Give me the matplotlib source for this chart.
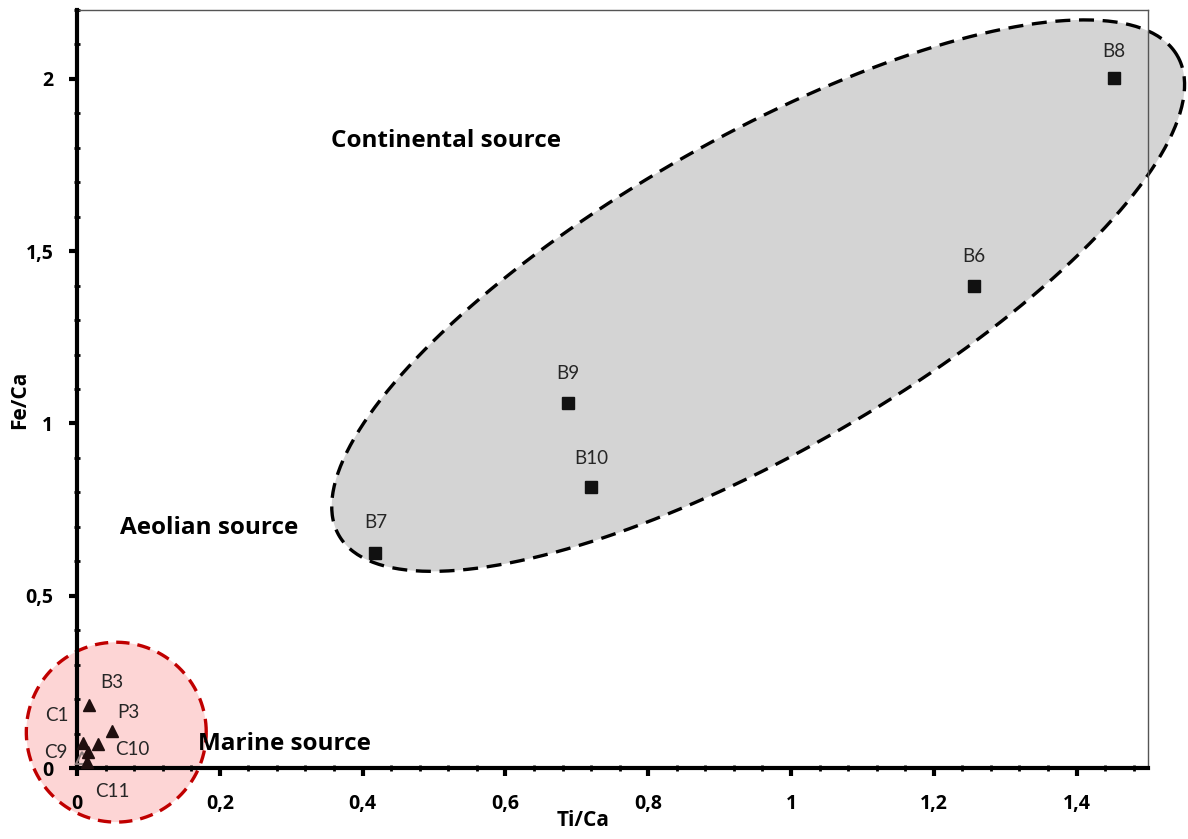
import numpy as np
import matplotlib
matplotlib.use("Agg")
import matplotlib.pyplot as plt
from matplotlib.ticker import MultipleLocator, FuncFormatter

plt.rcParams["font.family"] = ["Open Sans", "DejaVu Sans"]
plt.rcParams["font.weight"] = "bold"

# Continental samples (squares)
cont_labels = ["B8", "B6", "B9", "B10", "B7"]
cont_ti = [1.452, 1.256, 0.687, 0.720, 0.418]
cont_fe = [2.003, 1.400, 1.058, 0.815, 0.623]

# Marine samples (triangles)
mar_labels = ["B3", "P3", "C10", "C1", "C9", "C11"]
mar_ti = [0.017, 0.049, 0.029, 0.008, 0.015, 0.014]
mar_fe = [0.183, 0.107, 0.070, 0.072, 0.046, 0.018]

# unlabelled sample drawn as a hollow grey triangle
extra_ti = [0.007]
extra_fe = [0.030]

# label offsets in pixels (dx, dy)
cont_offsets = [(0, 26), (0, 29), (0, 30), (0, 29), (0, 31)]
mar_offsets = [(23, 22), (16, 19), (35, -6), (-26, 28), (-32, 0), (25, -30)]

fig = plt.figure(figsize=(11.88, 8.39), dpi=100)
ax = fig.add_axes([77 / 1188, 71 / 839, (1148 - 77) / 1188, (768 - 10) / 839])
ax.set_xlim(0, 1.5)
ax.set_ylim(0, 2.2)

# ---- source domains ----
t = np.linspace(0, 2 * np.pi, 400)
# continental domain: centre + two conjugate semi-axis vectors in data units
cx, cy = 0.954, 1.371
ux, uy = 0.5872, 0.6958
vx, vy = -0.1091, 0.3953
ex = cx + ux * np.cos(t) + vx * np.sin(t)
ey = cy + uy * np.cos(t) + vy * np.sin(t)
ax.fill(ex, ey, facecolor="#d4d4d4", edgecolor="none", zorder=1, clip_on=False)
ax.plot(ex, ey, color="black", lw=2.4, ls=(0, (4.5, 2.6)), zorder=1.2, clip_on=False)

# marine domain
mx, my = 0.055, 0.104
rx, ry = 0.126, 0.261
cxr = mx + rx * np.cos(t)
cyr = my + ry * np.sin(t)
ax.fill(cxr, cyr, facecolor="#fdd5d5", edgecolor="none", zorder=1, clip_on=False)
ax.plot(cxr, cyr, color="#c00000", lw=2.4, ls=(0, (4.0, 2.4)), zorder=1.2, clip_on=False)

# ---- samples ----
ax.plot(cont_ti, cont_fe, ls="none", marker="s", ms=8.5, color="#111111",
        markeredgecolor="#111111", zorder=4)
ax.plot(mar_ti, mar_fe, ls="none", marker="^", ms=8.5, color="#1f0f0f",
        markeredgecolor="#1f0f0f", zorder=4, clip_on=False)
ax.plot(extra_ti, extra_fe, ls="none", marker="^", ms=8.5, markerfacecolor="none",
        markeredgecolor="#8a7a7a", mew=1.5, zorder=3.9, clip_on=False)

lab_font = dict(family=["Lato", "DejaVu Sans"], fontsize=13.5, fontweight="normal",
                color="#262626")
for name, x, y, (dx, dy) in zip(cont_labels, cont_ti, cont_fe, cont_offsets):
    ax.annotate(name, (x, y), xytext=(dx, dy), textcoords="offset pixels",
                ha="center", va="center", zorder=5, **lab_font)
for name, x, y, (dx, dy) in zip(mar_labels, mar_ti, mar_fe, mar_offsets):
    ax.annotate(name, (x, y), xytext=(dx, dy), textcoords="offset pixels",
                ha="center", va="center", zorder=5, annotation_clip=False, **lab_font)

# ---- domain names ----
name_font = dict(fontsize=17.5, fontweight="bold", color="black")
ax.text(0.517, 1.820, "Continental source", ha="center", va="center", **name_font)
ax.text(0.185, 0.697, "Aeolian source", ha="center", va="center", **name_font)
ax.text(0.291, 0.070, "Marine source", ha="center", va="center", **name_font)

# ---- axes styling ----
for side in ("left", "bottom"):
    ax.spines[side].set_linewidth(3)
    ax.spines[side].set_color("black")
    ax.spines[side].set_zorder(3)
for side in ("top", "right"):
    ax.spines[side].set_linewidth(1)
    ax.spines[side].set_color("#555555")

ax.xaxis.set_major_locator(MultipleLocator(0.2))
ax.xaxis.set_minor_locator(MultipleLocator(0.04))
ax.yaxis.set_major_locator(MultipleLocator(0.5))
ax.yaxis.set_minor_locator(MultipleLocator(0.1))


def comma_fmt(v, _):
    s = f"{v:.1f}".rstrip("0").rstrip(".")
    return s.replace(".", ",")


ax.xaxis.set_major_formatter(FuncFormatter(comma_fmt))
ax.yaxis.set_major_formatter(FuncFormatter(comma_fmt))
ax.tick_params(which="major", direction="out", length=6, width=3, color="black",
               labelsize=14)
ax.tick_params(which="minor", direction="inout", length=4, width=2, color="black")
ax.tick_params(axis="x", which="major", pad=13)
ax.tick_params(axis="y", which="major", pad=11)

ax.set_xlabel("Ti/Ca", fontsize=15, fontweight="bold")
ax.set_ylabel("Fe/Ca", fontsize=15, fontweight="bold")
ax.xaxis.set_label_coords((583 - 77) / 1071, -(810 - 768) / 758)
ax.yaxis.set_label_coords(-(77 - 30) / 1071, (768 - 400) / 758)

fig.savefig("out.png", dpi=100)
